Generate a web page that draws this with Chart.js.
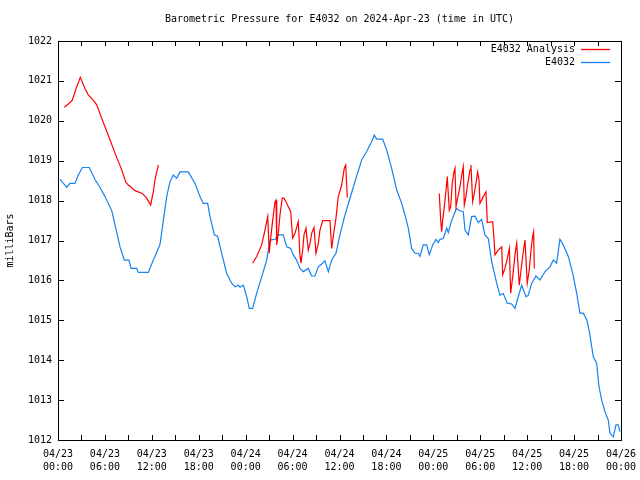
<!DOCTYPE html>
<html>
<head>
<meta charset="utf-8">
<script src="https://cdn.jsdelivr.net/npm/chart.js@4.4.1/dist/chart.umd.min.js"></script>
<style>
  body { margin: 0; background: #fff; }
  #wrap { width: 640px; height: 480px; }
</style>
</head>
<body>
<div id="wrap"><canvas id="baro" width="640" height="480"></canvas></div>
<script>
// Данные читаем с картинки: часы от 04/23 00:00 UTC и давление в мбар

const obsHours = [
  0.26, 1.11, 1.53, 2.17, 2.6, 3.11, 4.0, 4.73, 5.37, 6.01, 6.87, 7.29, 7.93, 8.48, 9.08, 9.34,
  10.06, 10.27, 11.55, 12.19, 12.4, 13.04, 13.47, 13.9, 14.32, 14.74, 15.18, 15.6, 16.66, 17.52,
  18.16, 18.58, 19.14, 19.44, 19.99, 20.42, 20.93, 21.57, 22.21, 22.63, 23.06, 23.27, 23.7, 24.13,
  24.46, 24.9, 25.41, 26.05, 26.69, 27.11, 27.75, 28.17, 28.81, 29.25, 29.76, 30.09, 30.52, 30.95,
  31.37, 32.01, 32.44, 32.86, 33.29, 33.72, 34.14, 34.57, 35.0, 35.55, 36.06, 36.7, 37.34, 38.11,
  38.84, 39.48, 40.12, 40.45, 40.75, 41.52, 42.03, 42.67, 43.31, 43.95, 44.37, 44.8, 45.23, 45.65,
  46.07, 46.29, 46.71, 47.15, 47.48, 47.92, 48.34, 48.63, 48.85, 49.27, 49.71, 49.91, 50.35, 50.98,
  51.32, 51.83, 52.05, 52.47, 52.9, 53.32, 53.75, 54.18, 54.6, 55.03, 55.46, 56.1, 56.52, 56.94,
  57.45, 58.02, 58.44, 58.86, 59.3, 59.85, 60.14, 60.58, 61.13, 61.64, 62.28, 62.92, 63.34, 63.77,
  64.19, 64.62, 65.26, 65.82, 66.33, 66.75, 67.17, 67.65, 68.03, 68.45, 68.89, 69.18, 69.53, 69.95,
  70.37, 70.59, 71.01, 71.36, 71.65, 71.87
];
const obsPressure = [
  1018.53, 1018.33, 1018.43, 1018.43, 1018.64, 1018.83, 1018.83, 1018.53, 1018.33, 1018.1, 1017.75, 1017.39, 1016.84, 1016.51, 1016.51, 1016.3,
  1016.3, 1016.2, 1016.2, 1016.51, 1016.6, 1016.9, 1017.5, 1018.1, 1018.47, 1018.64, 1018.56, 1018.72, 1018.72, 1018.43,
  1018.1, 1017.93, 1017.93, 1017.6, 1017.14, 1017.1, 1016.68, 1016.18, 1015.93, 1015.84, 1015.88, 1015.83, 1015.88, 1015.59,
  1015.3, 1015.3, 1015.68, 1016.09, 1016.51, 1017.01, 1017.03, 1017.14, 1017.14, 1016.84, 1016.8, 1016.64, 1016.51, 1016.3,
  1016.22, 1016.3, 1016.11, 1016.11, 1016.34, 1016.41, 1016.49, 1016.22, 1016.51, 1016.68, 1017.14, 1017.64, 1018.06, 1018.56,
  1019.02, 1019.23, 1019.48, 1019.64, 1019.54, 1019.54, 1019.27, 1018.81, 1018.27, 1017.93, 1017.64, 1017.31, 1016.8, 1016.68,
  1016.68, 1016.6, 1016.89, 1016.89, 1016.64, 1016.89, 1017.03, 1016.95, 1017.03, 1017.05, 1017.31, 1017.2, 1017.51, 1017.81,
  1017.75, 1017.72, 1017.26, 1017.14, 1017.6, 1017.61, 1017.45, 1017.53, 1017.14, 1017.05, 1016.47, 1015.93, 1015.63, 1015.67,
  1015.43, 1015.41, 1015.3, 1015.59, 1015.88, 1015.59, 1015.63, 1015.93, 1016.11, 1016.01, 1016.22, 1016.34, 1016.51, 1016.43,
  1017.03, 1016.89, 1016.6, 1016.18, 1015.68, 1015.18, 1015.18, 1015.0, 1014.63, 1014.09, 1013.92, 1013.34, 1013.0, 1012.71,
  1012.5, 1012.17, 1012.08, 1012.38, 1012.38, 1012.21
];

// анализ: три куска, null = разрыв
const anaHours = [
  0.81, 1.32, 1.83, 2.39, 2.85, 3.45, 3.87, 4.51, 4.95, 5.59, 6.43, 7.29, 8.15, 8.66, 8.99, 9.85,
  10.78, 11.34, 11.85, 12.19, 12.4, 12.83, 18.0,
  24.9, 25.41, 26.05, 26.47, 26.82, 27.02, 27.2, 27.46, 27.75, 27.88, 27.97, 28.17, 28.39, 28.68,
  28.9, 29.32, 29.76, 30.01, 30.31, 30.73, 30.95, 31.07, 31.29, 31.46, 31.71, 32.01, 32.23, 32.44,
  32.74, 32.99, 33.29, 33.5, 33.85, 34.78, 35.0, 35.2, 35.55, 35.84, 36.28, 36.61, 36.79, 37.0, 42.0,
  48.76, 48.94, 49.07, 49.19, 49.36, 49.71, 49.78, 50.04, 50.22, 50.42, 50.64, 50.77, 50.9, 51.06,
  51.41, 51.7, 51.83, 51.96, 52.17, 52.34, 52.69, 52.81, 53.03, 53.2, 53.45, 53.67, 53.84, 53.96,
  54.39, 54.73, 54.9, 55.59, 55.75, 55.88, 56.3, 56.74, 56.87, 57.16, 57.46, 57.72, 57.89, 58.15,
  58.44, 58.66, 58.99, 59.17, 59.42, 59.72, 60.01, 60.27, 60.49, 60.7, 60.83, 60.91
];
const anaPressure = [
  1020.34, 1020.42, 1020.52, 1020.85, 1021.09, 1020.81, 1020.65, 1020.52, 1020.4, 1020.06, 1019.64, 1019.19, 1018.77, 1018.47, 1018.39, 1018.25,
  1018.18, 1018.06, 1017.89, 1018.22, 1018.52, 1018.89, null,
  1016.43, 1016.6, 1016.89, 1017.26, 1017.6, 1016.68, 1017.06, 1017.51, 1017.97, 1018.01, 1016.89, 1017.18, 1017.64, 1018.06,
  1018.06, 1017.9, 1017.72, 1017.06, 1017.18, 1017.47, 1016.6, 1016.43, 1016.76, 1017.14, 1017.31, 1016.76, 1016.93, 1017.18,
  1017.33, 1016.68, 1016.93, 1017.26, 1017.5, 1017.5, 1016.8, 1017.1, 1017.56, 1018.1, 1018.39, 1018.81, 1018.89, 1018.08, null,
  1018.18, 1017.51, 1017.22, 1017.51, 1017.76, 1018.43, 1018.6, 1017.76, 1017.85, 1018.43, 1018.72, 1018.81, 1017.85, 1018.02,
  1018.35, 1018.72, 1018.85, 1017.89, 1018.1, 1018.35, 1018.77, 1018.89, 1017.97, 1018.14, 1018.43, 1018.72, 1018.52, 1017.93,
  1018.1, 1018.22, 1017.45, 1017.47, 1017.06, 1016.64, 1016.76, 1016.84, 1016.14, 1016.3, 1016.55, 1016.8, 1015.68, 1016.09,
  1016.64, 1016.93, 1015.88, 1016.18, 1016.6, 1017.01, 1015.93, 1016.26, 1016.76, 1017.1, 1017.22, 1016.3
];

const yTicks = [1012, 1013, 1014, 1015, 1016, 1017, 1018, 1019, 1020, 1021, 1022];
const dayLabels = ['04/23', '04/24', '04/25', '04/26'];

const FONT = "'DejaVu Sans Mono', monospace";
const RED = '#ff0000';
const BLUE = '#1682f0';

function toPoints(hours, vals) {
  return hours.map((h, i) => ({ x: h, y: vals[i] }));
}

// рамка, внутренние засечки, заголовок, подпись оси и легенда в стиле gnuplot
const gnuplotFrame = {
  id: 'gnuplotFrame',
  afterDraw(chart) {
    const ctx = chart.ctx;
    const a = chart.chartArea;
    const xs = chart.scales.x, ys = chart.scales.y;
    ctx.save();
    ctx.strokeStyle = '#000';
    ctx.lineWidth = 1;
    ctx.beginPath();
    for (let h = 0; h <= 72; h += 3) {
      const px = Math.round(xs.getPixelForValue(h)) + 0.5;
      ctx.moveTo(px, a.bottom); ctx.lineTo(px, a.bottom - 5);
      ctx.moveTo(px, a.top); ctx.lineTo(px, a.top + 5);
    }
    yTicks.forEach(v => {
      const py = Math.round(ys.getPixelForValue(v)) + 0.5;
      ctx.moveTo(a.left, py); ctx.lineTo(a.left + 6, py);
      ctx.moveTo(a.right, py); ctx.lineTo(a.right - 6, py);
    });
    ctx.stroke();
    ctx.strokeRect(Math.round(a.left) + 0.5, Math.round(a.top) + 0.5,
      Math.round(a.right - a.left), Math.round(a.bottom - a.top));

    ctx.fillStyle = '#000';
    ctx.font = '10px ' + FONT;
    ctx.textAlign = 'center';
    ctx.textBaseline = 'middle';
    ctx.fillText('Barometric Pressure for E4032 on 2024-Apr-23 (time in UTC)', (a.left + a.right) / 2, 19);

    ctx.save();
    ctx.translate(10, (a.top + a.bottom) / 2);
    ctx.rotate(-Math.PI / 2);
    ctx.fillText('milliBars', 0, 0);
    ctx.restore();

    // легенда
    const items = [
      { label: 'E4032 Analysis', color: RED, y: 49 },
      { label: 'E4032', color: BLUE, y: 62 }
    ];
    items.forEach(it => {
      ctx.textAlign = 'right';
      ctx.fillStyle = '#000';
      ctx.fillText(it.label, 575, it.y);
      ctx.strokeStyle = it.color;
      ctx.lineWidth = 1.3;
      ctx.beginPath();
      ctx.moveTo(581, it.y + 0.5); ctx.lineTo(610, it.y + 0.5);
      ctx.stroke();
    });
    ctx.restore();
  }
};

new Chart(document.getElementById('baro'), {
  type: 'line',
  data: {
    datasets: [
      {
        label: 'E4032 Analysis',
        data: toPoints(anaHours, anaPressure),
        borderColor: RED,
        borderWidth: 1.2,
        pointRadius: 0,
        spanGaps: false,
        tension: 0
      },
      {
        label: 'E4032',
        data: toPoints(obsHours, obsPressure),
        borderColor: BLUE,
        borderWidth: 1.2,
        pointRadius: 0,
        tension: 0
      }
    ]
  },
  options: {
    responsive: false,
    animation: false,
    layout: { padding: { top: 41, right: 19, bottom: 0, left: 0 } },
    plugins: {
      legend: { display: false },
      title: { display: false },
      tooltip: { enabled: false }
    },
    scales: {
      x: {
        type: 'linear',
        min: 0,
        max: 72,
        afterFit: s => { s.height = 40; s.paddingLeft = 0; s.paddingRight = 0; },
        afterBuildTicks: s => { s.ticks = []; for (let h = 0; h <= 72; h += 6) s.ticks.push({ value: h }); },
        grid: { display: false, drawTicks: false },
        border: { display: false },
        ticks: {
          autoSkip: false,
          maxRotation: 0,
          padding: 8,
          color: '#000',
          font: { family: FONT, size: 10, lineHeight: 1.3 },
          callback: v => {
            const hh = v % 24;
            return [dayLabels[Math.floor(v / 24)], (hh < 10 ? '0' : '') + hh + ':00'];
          }
        }
      },
      y: {
        min: 1012,
        max: 1022,
        afterFit: s => { s.width = 58; s.paddingTop = 0; s.paddingBottom = 0; },
        grid: { display: false, drawTicks: false },
        border: { display: false },
        ticks: {
          stepSize: 1,
          padding: 6,
          color: '#000',
          font: { family: FONT, size: 10 },
          callback: v => String(v)
        }
      }
    }
  },
  plugins: [gnuplotFrame]
});
</script>
</body>
</html>
